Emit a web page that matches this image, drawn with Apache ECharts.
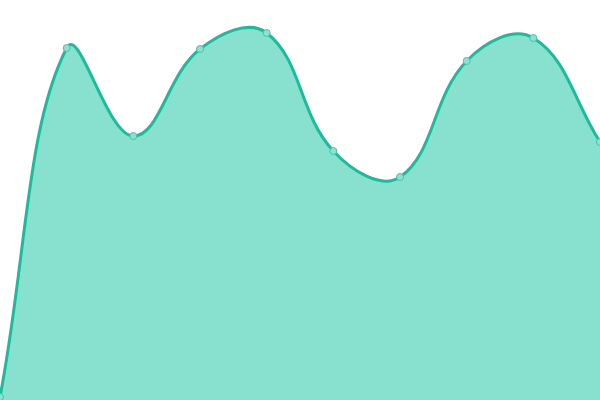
<!DOCTYPE html>
<html>
<head>
<meta charset="utf-8">
<script src="https://cdn.jsdelivr.net/npm/echarts@6/dist/echarts.min.js"></script>
<style>html,body{margin:0;padding:0;background:#fff}#c{width:600px;height:400px}</style>
</head>
<body>
<div id="c"></div>
<script>
const categories = ['1','2','3','4','5','6','7','8','9','10'];
const values = [3, 352, 264, 351, 367, 249, 223, 339, 362, 258];

const TENSION = 0.4;

function buildPaths(api) {
  const pts = values.map((v, i) => api.coord([i, v]));
  const n = pts.length;
  const bottom = api.coord([0, 0])[1];
  const x0 = api.coord([0, 0])[0], x1 = api.coord([n - 1, 0])[0];
  const top = api.coord([0, 400])[1];
  const cps = pts.map((p, i) => {
    const prev = pts[i - 1] || p;
    const next = pts[i + 1] || p;
    const d01 = Math.hypot(p[0] - prev[0], p[1] - prev[1]);
    const d12 = Math.hypot(next[0] - p[0], next[1] - p[1]);
    let s01 = d01 / (d01 + d12), s12 = d12 / (d01 + d12);
    if (isNaN(s01)) s01 = 0;
    if (isNaN(s12)) s12 = 0;
    const fa = TENSION * s01, fb = TENSION * s12;
    const clamp = (q) => [Math.min(Math.max(q[0], x0), x1), Math.min(Math.max(q[1], top), bottom)];
    return {
      prev: clamp([p[0] - fa * (next[0] - prev[0]), p[1] - fa * (next[1] - prev[1])]),
      next: clamp([p[0] + fb * (next[0] - prev[0]), p[1] + fb * (next[1] - prev[1])])
    };
  });
  let d = 'M' + pts[0][0] + ' ' + pts[0][1];
  for (let i = 1; i < n; i++) {
    const a = cps[i - 1].next, b = cps[i].prev, p = pts[i];
    d += ' C' + a[0] + ' ' + a[1] + ' ' + b[0] + ' ' + b[1] + ' ' + p[0] + ' ' + p[1];
  }
  const area = d + ' L' + pts[n - 1][0] + ' ' + bottom + ' L' + pts[0][0] + ' ' + bottom + ' Z';
  return { line: d, area: area };
}

const chart = echarts.init(document.getElementById('c'));
chart.setOption({
  animation: false,
  grid: { left: 0, right: 0, top: 0, bottom: 0 },
  xAxis: { type: 'category', data: categories, boundaryGap: false, show: false },
  yAxis: { type: 'value', min: 0, max: 400, show: false },
  series: [{
    type: 'custom',
    z: 1,
    data: values.map((v, i) => [i, v]),
    renderItem: function (params, api) {
      if (params.dataIndex !== 0) return { type: 'group', children: [] };
      const p = buildPaths(api);
      return {
        type: 'group',
        children: [
          { type: 'path', shape: { pathData: p.area }, style: { fill: '#88e0cf', stroke: null } },
          { type: 'path', shape: { pathData: p.line }, style: { fill: null, stroke: '#1abc9c', lineWidth: 3 } }
        ]
      };
    }
  }, {
    type: 'line',
    z: 3,
    data: values,
    symbol: 'circle',
    symbolSize: 7,
    lineStyle: { width: 0, opacity: 0 },
    itemStyle: { color: '#8ee0cf', borderColor: '#44c6a9', borderWidth: 1 }
  }]
});
</script>
</body>
</html>
